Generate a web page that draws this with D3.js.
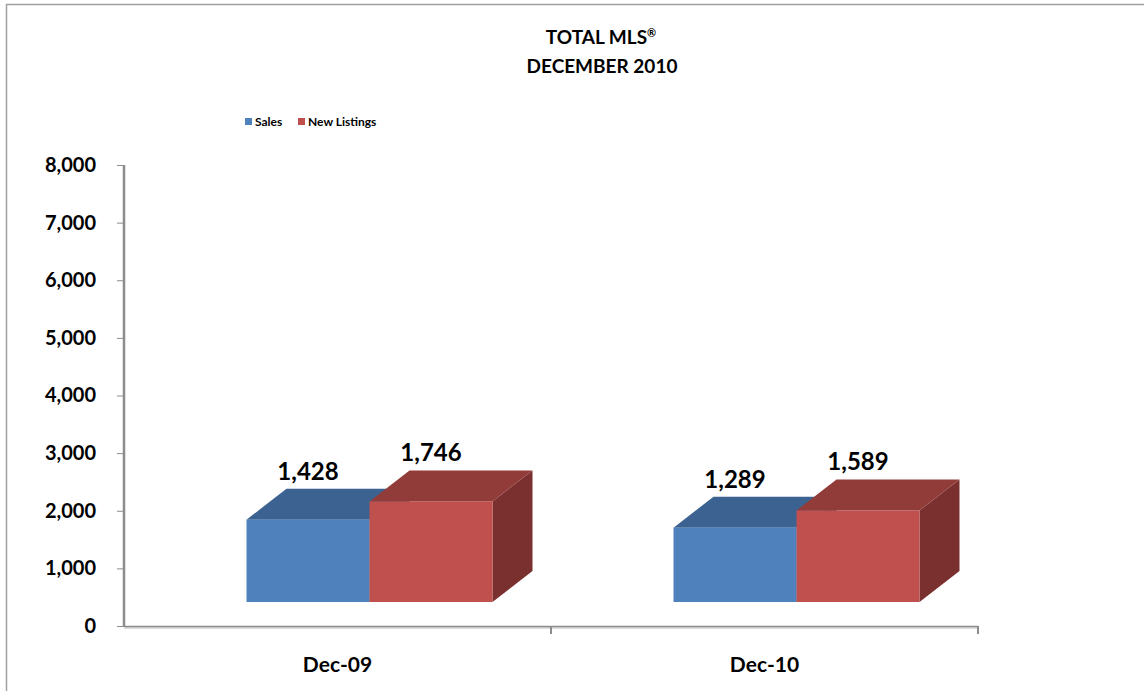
<!DOCTYPE html>
<html>
<head>
<meta charset="utf-8">
<script src="https://cdn.jsdelivr.net/npm/d3@7"></script>
<style>
  body { margin: 0; background: #fff; }
  svg { display: block; font-family: Lato, "Open Sans", sans-serif; font-weight: bold; }
</style>
</head>
<body id="body">
<svg></svg>
<script>
var width = 1144;
var height = 691;

// chart data
var categories = ["Dec-09", "Dec-10"];
var seriesNames = ["Sales", "New Listings"];
var sales = [1428, 1289];
var newListings = [1746, 1589];
var yTicks = [0, 1000, 2000, 3000, 4000, 5000, 6000, 7000, 8000];

var colors = {
  "Sales": {front: "#4f81bd", top: "#3b6290", side: "#345a85"},
  "New Listings": {front: "#c0504d", top: "#923c3a", side: "#7a302f"}
};

var svg = d3.select("svg")
  .attr("width", width)
  .attr("height", height);

// outer frame
svg.append("path")
  .attr("d", "M6.5,691 V4.5 H1144")
  .attr("fill", "none")
  .attr("stroke", "#a0a0a0")
  .attr("stroke-width", 1.5);

// title
var title = svg.append("text")
  .attr("text-anchor", "middle")
  .attr("font-size", 19)
  .attr("fill", "#000");
title.append("tspan").attr("x", 601).attr("y", 44).text("TOTAL MLS");
title.append("tspan").attr("font-size", 11).attr("dy", -7).text("®");
title.append("tspan").attr("x", 602).attr("y", 73).text("DECEMBER 2010");

// legend
var legend = svg.append("g").attr("transform", "translate(245,118)");
var legendX = [0, 53];
seriesNames.forEach(function (s, i) {
  var g = legend.append("g").attr("transform", "translate(" + legendX[i] + ",0)");
  g.append("rect").attr("width", 7).attr("height", 7).attr("fill", colors[s].front);
  g.append("text").attr("x", 10).attr("y", 8).attr("font-size", 12).text(s);
});

var y = d3.scaleLinear()
  .domain([0, 8000])
  .range([626, 165]);

var x = d3.scaleBand()
  .domain(categories)
  .range([124, 978])
  .padding(0);

var depthX = 40, depthY = -31;
var frontDrop = 24;   // front plane sits below the floor line
var barW = 123;
var frontShift = 32;

// y axis
var yAxis = svg.append("g")
  .attr("transform", "translate(124,0)")
  .call(d3.axisLeft(y).tickValues(yTicks).tickSize(7).tickFormat(d3.format(",")));
yAxis.select(".domain").attr("stroke", "#8c8c8c").attr("stroke-width", 2.5)
  .attr("d", "M0," + y(8000) + "V" + (y(0) + 1));
yAxis.selectAll(".tick line").attr("stroke", "#8c8c8c").attr("stroke-width", 1);
yAxis.selectAll(".tick text")
  .attr("x", -28)
  .attr("font-size", 20)
  .attr("font-family", "Lato, sans-serif")
  .attr("font-weight", "bold")
  .attr("fill", "#000");

// x axis
svg.append("line")
  .attr("x1", 124).attr("x2", 978)
  .attr("y1", y(0) + 2).attr("y2", y(0) + 2)
  .attr("stroke", "#dcdcdc").attr("stroke-width", 2);
var xAxis = svg.append("g")
  .attr("transform", "translate(0," + y(0) + ")")
  .call(d3.axisBottom(x).tickSize(0).tickFormat(""));
xAxis.select(".domain").attr("stroke", "#8c8c8c").attr("stroke-width", 1.5);
svg.selectAll(".xsep")
  .data([x(categories[1]), x(categories[1]) + x.bandwidth()])
  .enter().append("line")
  .attr("x1", function (d) { return d; })
  .attr("x2", function (d) { return d; })
  .attr("y1", y(0)).attr("y2", y(0) + 8)
  .attr("stroke", "#8c8c8c").attr("stroke-width", 2);

svg.selectAll(".cat")
  .data(categories)
  .enter().append("text")
  .attr("class", "cat")
  .attr("x", function (d) { return x(d) + x.bandwidth() / 2; })
  .attr("y", 672)
  .attr("text-anchor", "middle")
  .attr("font-size", 21)
  .text(function (d) { return d; });

// bars
var bars = [];
categories.forEach(function (c, i) {
  bars.push({cat: c, series: "Sales", value: sales[i], idx: 0});
  bars.push({cat: c, series: "New Listings", value: newListings[i], idx: 1});
});

var base = y(0) - frontDrop;
function barGeom(d) {
  var cx = x(d.cat) + x.bandwidth() / 2 + frontShift;
  var x0 = cx - barW + d.idx * barW;
  var h = y(0) - y(d.value);
  return {x0: x0, x1: x0 + barW, top: base - h, bottom: base};
}

var barG = svg.append("g");
bars.forEach(function (d) {
  var g = barGeom(d);
  var c = colors[d.series];
  var grp = barG.append("g");
  // side face
  grp.append("path")
    .attr("d", "M" + g.x1 + "," + g.top + "L" + (g.x1 + depthX) + "," + (g.top + depthY) +
      "L" + (g.x1 + depthX) + "," + (g.bottom + depthY) + "L" + g.x1 + "," + g.bottom + "Z")
    .attr("fill", c.side);
  // top face
  grp.append("path")
    .attr("d", "M" + g.x0 + "," + g.top + "L" + (g.x0 + depthX) + "," + (g.top + depthY) +
      "L" + (g.x1 + depthX) + "," + (g.top + depthY) + "L" + g.x1 + "," + g.top + "Z")
    .attr("fill", c.top);
  // front face
  grp.append("rect")
    .attr("x", g.x0).attr("y", g.top)
    .attr("width", barW).attr("height", g.bottom - g.top)
    .attr("fill", c.front);
});

// value labels
svg.selectAll(".val")
  .data(bars)
  .enter().append("text")
  .attr("class", "val")
  .attr("x", function (d) { var g = barGeom(d); return (g.x0 + g.x1) / 2; })
  .attr("y", function (d) { return barGeom(d).top - 40; })
  .attr("text-anchor", "middle")
  .attr("font-size", 24)
  .text(function (d) { return d3.format(",")(d.value); });
</script>
</body>
</html>
